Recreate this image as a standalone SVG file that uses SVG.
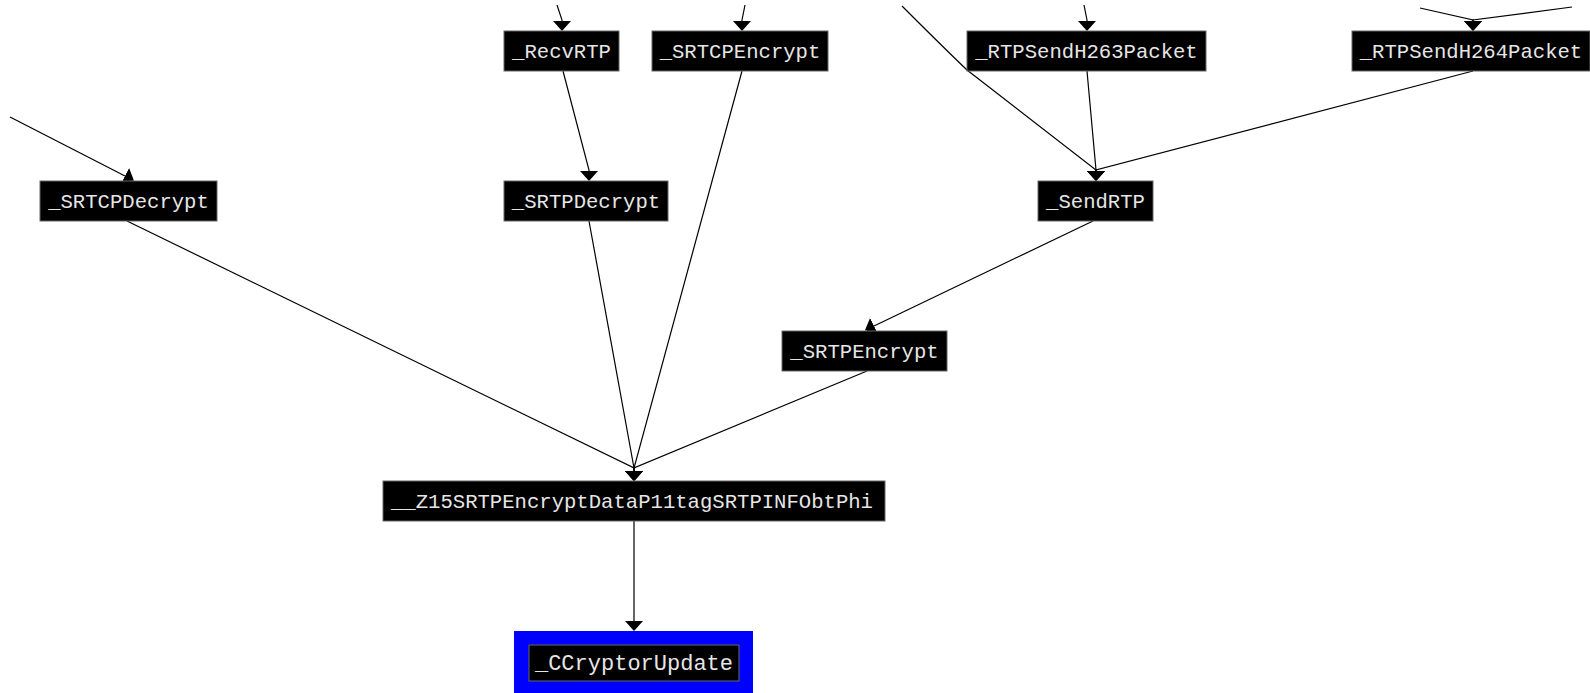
<svg xmlns="http://www.w3.org/2000/svg" width="1590" height="693" viewBox="0 0 1590 693">
<style>
.edge{fill:none;stroke:#000;stroke-width:1.2;marker-end:url(#arr)}
.box{fill:#000;stroke:#666;stroke-width:1}
.lbl{fill:#e6e6e6;font-family:"Liberation Mono","DejaVu Sans Mono",monospace;font-size:20.6px;text-anchor:middle}
</style>
<defs>
<marker id="arr" markerUnits="userSpaceOnUse" viewBox="0 0 10 18" refX="0" refY="9" markerWidth="10" markerHeight="18" orient="auto">
<path d="M0,0 L10,9 L0,18 Z" fill="#000"/>
</marker>
</defs>
<rect width="1590" height="693" fill="#fff"/>
<g id="connectors">
<path class="edge" d="M10,117 L125,176"/>
<path class="edge" d="M557,5 L562,20 L562,21"/>
<path class="edge" d="M745,5 L742,20 L742,21"/>
<path class="edge" d="M563,71 L589,170 L589,171"/>
<path class="edge" d="M902,6 C922,26 944,48 967,70 L1096,170 L1096,171"/>
<path class="edge" d="M1084,5 L1087,20 L1087,21"/>
<path class="edge" d="M1087,71 L1096,170 L1096,171"/>
<path class="edge" d="M1473,71 L1096,170 L1096,171"/>
<path class="edge" d="M1420,8 L1473,20 L1473,21"/>
<path class="edge" d="M1572,7 L1473,20 L1473,21"/>
<path class="edge" d="M1093,221 L874,326"/>
<path class="edge" d="M127,221 L634,468 L634,471"/>
<path class="edge" d="M589,221 L634,468 L634,471"/>
<path class="edge" d="M742,71 L634,468 L634,471"/>
<path class="edge" d="M867,371 L634,468 L634,471"/>
<path class="edge" d="M634,521 L634,621"/>
</g>
<g id="n_RecvRTP"><rect class="box" x="504" y="31" width="115" height="40"/><text class="lbl" x="561.5" y="57.5">_RecvRTP</text></g>
<g id="n_SRTCPEncrypt"><rect class="box" x="652" y="31" width="176" height="40"/><text class="lbl" x="740" y="57.5">_SRTCPEncrypt</text></g>
<g id="n_RTPSendH263Packet"><rect class="box" x="967" y="31" width="239" height="40"/><text class="lbl" x="1086.5" y="57.5">_RTPSendH263Packet</text></g>
<g id="n_RTPSendH264Packet"><rect class="box" x="1352" y="31" width="238" height="40"/><text class="lbl" x="1471" y="57.5">_RTPSendH264Packet</text></g>
<g id="n_SRTCPDecrypt"><rect class="box" x="40" y="181" width="177" height="40"/><text class="lbl" x="128.5" y="207.5">_SRTCPDecrypt</text></g>
<g id="n_SRTPDecrypt"><rect class="box" x="504" y="181" width="164" height="40"/><text class="lbl" x="586" y="207.5">_SRTPDecrypt</text></g>
<g id="n_SendRTP"><rect class="box" x="1038" y="181" width="115" height="40"/><text class="lbl" x="1095.5" y="207.5">_SendRTP</text></g>
<g id="n_SRTPEncrypt"><rect class="box" x="782" y="331" width="165" height="40"/><text class="lbl" x="864.5" y="357.5">_SRTPEncrypt</text></g>
<g id="n_Z15SRTPEncryptData"><rect class="box" x="383" y="481" width="502" height="40"/><text class="lbl" x="632" y="507.5">__Z15SRTPEncryptDataP11tagSRTPINFObtPhi</text></g>
<g id="n_CCryptorUpdate"><rect x="514" y="631" width="239" height="70" fill="#0000ff"/><rect class="box" x="529" y="645" width="210" height="36"/><text class="lbl" x="634" y="670" style="font-size:22px">_CCryptorUpdate</text></g>
</svg>
